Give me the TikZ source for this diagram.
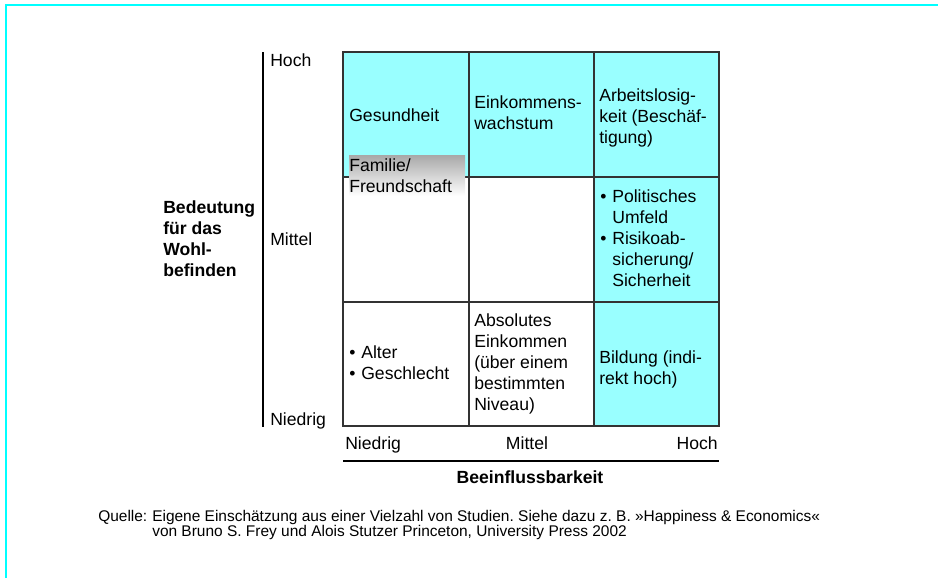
\documentclass[tikz,border=0pt]{standalone}
\usepackage{fontspec}
\setmainfont{Liberation Sans}
\frenchspacing
\definecolor{framecyan}{RGB}{0,255,255}
\definecolor{cellcyan}{RGB}{153,255,255}
\definecolor{gridgray}{RGB}{51,51,51}
\definecolor{shadegray}{RGB}{168,168,168}
\newcommand\cellfont{\fontsize{13.2pt}{15.75pt}\selectfont}
\newcommand\notefont{\fontsize{11.6pt}{11pt}\selectfont}
\newcommand\ml[1]{\begin{tabular}[t]{@{}l@{}}#1\end{tabular}}
\newcommand\bl[1]{\begin{tabular}[t]{@{}l@{\hspace{4.4pt}}l@{}}#1\end{tabular}}
\begin{document}
\begin{tikzpicture}[x=0.75pt,y=-0.75pt,
  lbl/.style={anchor=base west,inner sep=0pt,font=\cellfont},
  lblc/.style={anchor=base,inner sep=0pt,font=\cellfont},
  bold/.style={font=\cellfont\bfseries},
  note/.style={anchor=base west,inner sep=0pt,font=\notefont},
  gridline/.style={draw=gridgray,line width=1.5pt},
  axis/.style={draw=black,line width=1.5pt},
  frameline/.style={draw=framecyan,line width=1.6pt}]
\useasboundingbox (0,0) rectangle (938,578);
% frame
\draw[frameline] (6,578) -- (6,5) -- (938,5);
% cell fills
\fill[cellcyan] (343,52) rectangle (719,177);
\fill[cellcyan] (594,177) rectangle (719,426);
% grid
\draw[gridline] (343,52) rectangle (719,426);
\draw[gridline] (468.5,52) -- (468.5,426);
\draw[gridline] (594,52) -- (594,426);
\draw[gridline] (343,177) -- (719,177);
\draw[gridline] (343,301.5) -- (719,301.5);
% shaded box behind Familie
\shade[top color=shadegray,bottom color=white] (349,155) rectangle (465,196);
% axes
\draw[axis] (263,52) -- (263,427);
\draw[axis] (343,461) -- (719,461);
% left axis labels
\node[lbl] (yhoch) at (270,66) {Hoch};
\node[lbl] (ymittel) at (270,245) {Mittel};
\node[lbl] (yniedrig) at (270,425) {Niedrig};
\node[lbl,bold] (ylab) at (163,213) {\ml{Bedeutung\\für das\\Wohl-\\befinden}};
% bottom axis labels
\node[lbl] (xniedrig) at (345,449) {Niedrig};
\node[lblc] (xmittel) at (527,449) {Mittel};
\node[lbl,anchor=base east] (xhoch) at (718,449) {Hoch};
\node[lblc,bold] (xlab) at (530,483) {Beeinflussbarkeit};
% cell texts
\node[lbl] (gesund) at (349,121) {Gesundheit};
\node[lbl] (familie) at (349,171.7) {\ml{Familie/\\Freundschaft}};
\node[lbl] (wachstum) at (474,108) {\ml{Einkommens-\\wachstum}};
\node[lbl] (arbeit) at (599,101.5) {\ml{Arbeitslosig-\\keit (Beschäf-\\tigung)}};
\node[lbl] (politik) at (600,202) {\bl{\textbullet & Politisches\\ & Umfeld\\ \textbullet & Risikoab-\\ & sicherung/\\ & Sicherheit}};
\node[lbl] (alter) at (349,358) {\bl{\textbullet & Alter\\ \textbullet & Geschlecht}};
\node[lbl] (absolut) at (474,326) {\ml{Absolutes\\Einkommen\\(über einem\\bestimmten\\Niveau)}};
\node[lbl] (bildung) at (599,363) {\ml{Bildung (indi-\\rekt hoch)}};
% source note
\node[note] (quelle) at (98,521) {Quelle:};
\node[note] (source) at (152,521) {\ml{Eigene Einschätzung aus einer Vielzahl von Studien. Siehe dazu z. B. »Happiness \& Economics«\\von Bruno S. Frey und Alois Stutzer Princeton, University Press 2002}};
\end{tikzpicture}
\end{document}
